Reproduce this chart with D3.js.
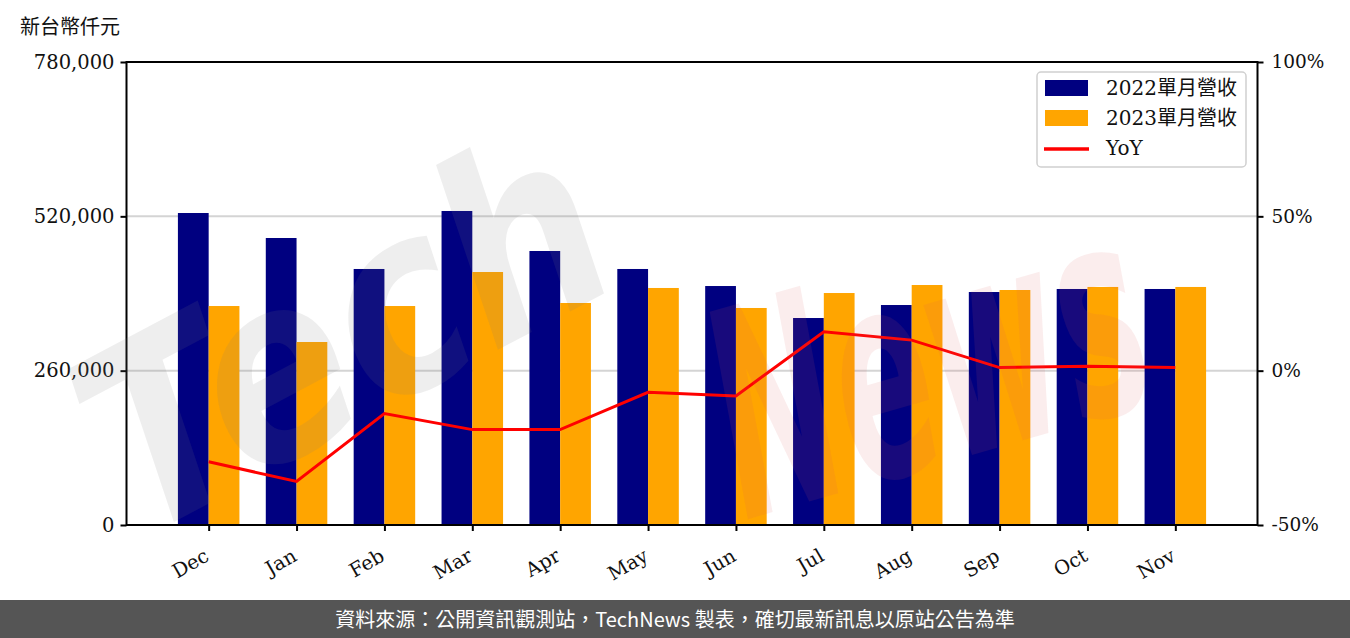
<!DOCTYPE html>
<html><head><meta charset="utf-8">
<script src="https://cdn.jsdelivr.net/npm/d3@7"></script>
<style>body{margin:0;background:#fff;}svg{display:block;}</style>
</head><body>
<svg id="c" width="1350" height="638"></svg>
<script>
const categories = ["Dec","Jan","Feb","Mar","Apr","May","Jun","Jul","Aug","Sep","Oct","Nov"];
const rev2022 = [525600,483500,431300,529000,461600,431300,402600,348700,370600,392500,397600,397600];
const rev2023 = [368900,308300,368900,426200,374000,399300,365600,390800,404300,395900,401000,401000];
const yoy = [-29.5,-35.9,-13.9,-19.1,-19.1,-7.0,-8.2,12.6,9.9,1.0,1.4,1.0];
const leftTicks = [0,260000,520000,780000];
const rightTicks = [-50,0,50,100];
const seriesNames = ["2022單月營收","2023單月營收","YoY"];
const unitLabel = "新台幣仟元";
const footerText = "資料來源：公開資訊觀測站，TechNews 製表，確切最新訊息以原站公告為準";

const svg = d3.select("#c");
const L=126.5, R=1257.5, T=62, B=525;
const serif = "'DejaVu Serif','Noto Sans CJK TC',serif";
const x = d3.scaleLinear().domain([-0.935, 11.935]).range([L,R]);
const y = d3.scaleLinear().domain([0,780000]).range([B,T]);
const y2 = d3.scaleLinear().domain([-50,100]).range([B,T]);
const bw = 0.35;

// grid
svg.append("g").selectAll("line").data(leftTicks.filter(d=>d>0&&d<780000)).join("line")
  .attr("x1",L).attr("x2",R).attr("y1",d=>y(d)).attr("y2",d=>y(d))
  .attr("stroke","#d4d4d4").attr("stroke-width",2);

// bars
svg.append("g").selectAll("rect").data(rev2022).join("rect")
  .attr("x",(d,i)=>x(i-bw)).attr("width",(d,i)=>x(i)-x(i-bw))
  .attr("y",d=>y(d)).attr("height",d=>B-y(d)).attr("fill","#000080");
svg.append("g").selectAll("rect").data(rev2023).join("rect")
  .attr("x",(d,i)=>x(i)).attr("width",(d,i)=>x(i+bw)-x(i))
  .attr("y",d=>y(d)).attr("height",d=>B-y(d)).attr("fill","#FFA500");

// line
svg.append("path").datum(yoy)
  .attr("d",d3.line().x((d,i)=>x(i)).y(d=>y2(d)))
  .attr("fill","none").attr("stroke","#FF0000").attr("stroke-width",3);

// axes
const ax = svg.append("g").attr("font-family",serif);
const gl = ax.append("g").attr("transform",`translate(${L},0)`)
  .call(d3.axisLeft(y).tickValues(leftTicks).tickFormat(d3.format(",")).tickSize(6).tickPadding(6));
const gr = ax.append("g").attr("transform",`translate(${R},0)`)
  .call(d3.axisRight(y2).tickValues(rightTicks).tickFormat(d=>d+"%").tickSize(6).tickPadding(8));
const gb = ax.append("g").attr("transform",`translate(0,${B})`)
  .call(d3.axisBottom(x).tickValues(d3.range(categories.length)).tickFormat(i=>categories[i]).tickSize(6).tickPadding(4));
[gl,gr,gb].forEach(g=>{
  g.select(".domain").remove();
  g.selectAll(".tick line").attr("stroke","#000").attr("stroke-width",2);
  g.selectAll(".tick text").attr("font-size",19.5).attr("fill","#111").attr("font-family",serif);
});
gr.selectAll(".tick text").attr("font-size",18.5);
gb.selectAll(".tick text").attr("text-anchor","end").attr("dy",null)
  .attr("transform","translate(-4,26) rotate(-30)");
// spines
svg.append("rect").attr("x",L).attr("y",T).attr("width",R-L).attr("height",B-T)
  .attr("fill","none").attr("stroke","#000").attr("stroke-width",2);

// unit label
svg.append("text").attr("x",20).attr("y",34).attr("font-size",20)
  .attr("font-family","'Noto Sans CJK TC',sans-serif").attr("fill","#111").text(unitLabel);

// watermark
const wm = svg.append("g").attr("pointer-events","none");
wm.append("text").attr("transform","translate(140,540) rotate(-28) scale(0.95,1.1)")
  .attr("font-size",230).attr("font-style","italic").attr("font-weight","bold")
  .attr("font-family","'DejaVu Sans',sans-serif").attr("fill","rgba(120,120,120,0.13)").text("Tech");
wm.append("text").attr("transform","translate(745,520) rotate(-16) scale(0.6,1.2)")
  .attr("font-size",240).attr("font-style","italic").attr("font-weight","bold")
  .attr("font-family","'DejaVu Sans',sans-serif").attr("fill","rgba(220,90,90,0.11)").text("News");

// legend
const lg = svg.append("g");
lg.append("rect").attr("x",1037).attr("y",72).attr("width",209).attr("height",95)
  .attr("rx",4).attr("fill","#fff").attr("fill-opacity",0.8).attr("stroke","#d0d0d0").attr("stroke-width",1.5);
const colors=["#000080","#FFA500","#FF0000"];
seriesNames.forEach((n,i)=>{
  const cy = 88 + i*30;
  if(i<2) lg.append("rect").attr("x",1045).attr("y",cy-8).attr("width",43).attr("height",16).attr("fill",colors[i]);
  else lg.append("line").attr("x1",1044).attr("x2",1089).attr("y1",cy+1).attr("y2",cy+1).attr("stroke",colors[i]).attr("stroke-width",3.5);
  lg.append("text").attr("x",1106).attr("y",cy+7).attr("font-size",20).attr("font-family",serif).attr("fill","#111").text(n);
});

// footer
svg.append("rect").attr("x",0).attr("y",600).attr("width",1350).attr("height",38).attr("fill","#555555");
svg.append("text").attr("x",675).attr("y",627).attr("text-anchor","middle").attr("font-size",20)
  .attr("font-family","'Noto Sans CJK TC',sans-serif").attr("fill","#fff").text(footerText);
</script>
</body></html>
